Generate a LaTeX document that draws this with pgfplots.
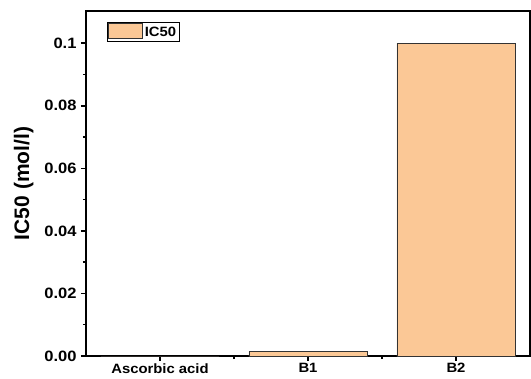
\documentclass[border=0pt]{standalone}
\usepackage{pgfplots}
\pgfplotsset{compat=1.18}
\usepackage{fontspec}
\setmainfont{Liberation Sans}[FakeStretch=1.1]
\newfontfamily\ylfont{Liberation Sans}
\definecolor{barfill}{RGB}{251,200,150}
\begin{document}
\begin{tikzpicture}
\begin{axis}[
  name=ax,
  scale only axis,
  width=444pt, height=345pt,
  xmin=-0.5, xmax=2.5,
  ymin=0, ymax=0.1103,
  axis line style={line width=1.8pt},
  xtick={0,1,2},
  xticklabels={Ascorbic acid,B1,B2},
  minor xtick={0.5,1.5},
  ytick={0,0.02,0.04,0.06,0.08,0.1},
  yticklabels={0.00,0.02,0.04,0.06,0.08,0.1},
  minor ytick={0.01,0.03,0.05,0.07,0.09},
  tick align=outside,
  xtick pos=bottom, ytick pos=left,
  major tick length=5pt, minor tick length=3pt,
  every tick/.style={line width=1.5pt, black},
  /pgf/number format/assume math mode=true,
  xticklabel style={font=\fontsize{13.5}{15}\selectfont\bfseries, yshift=1pt},
  yticklabel style={font=\fontsize{15}{17}\selectfont\bfseries, xshift=-1pt},
  ylabel={IC50 (mol/l)},
  ylabel style={font=\ylfont\fontsize{21}{23}\selectfont\bfseries, yshift=4pt},
  legend style={at={(0.047,0.968)}, anchor=north west, draw=black, line width=0.6pt,
    font=\fontsize{13.5}{15}\selectfont\bfseries, inner sep=1pt, row sep=0pt},
  ybar, bar width=0.8,
  clip=false,
]
\addplot[fill=barfill, draw=black!80, line width=0.6pt,
  legend image code/.code={\draw[fill=barfill, draw=black!80, line width=0.6pt] (0pt,-6pt) rectangle (34pt,9pt);}]
  coordinates {(0,0) (1,0.0015) (2,0.1)};
\addlegendentry{IC50}
\coordinate (bl) at (rel axis cs:0,0);
\coordinate (tr) at (rel axis cs:1,1);
\end{axis}
\pgfresetboundingbox
\path ([xshift=-86pt,yshift=-22pt]bl) rectangle ([xshift=1pt,yshift=11pt]tr);
\end{tikzpicture}
\end{document}
